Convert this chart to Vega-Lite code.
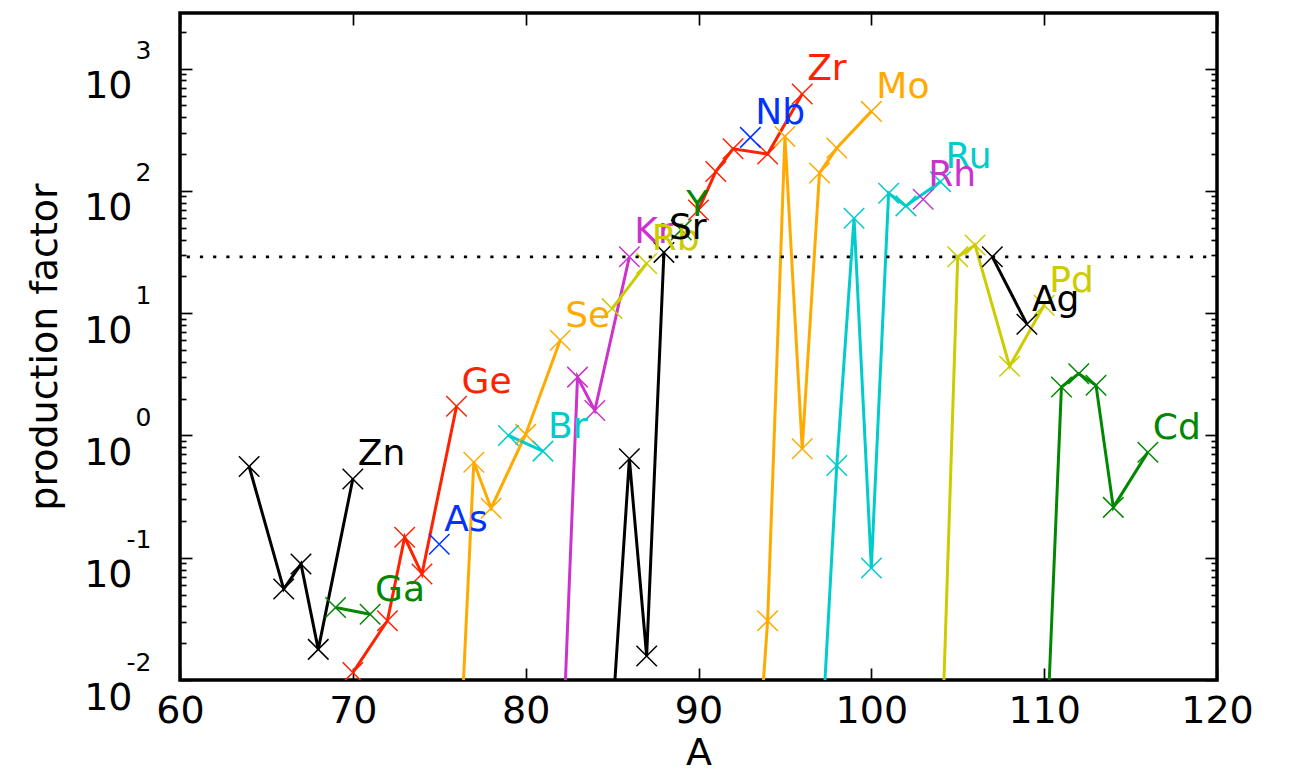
{
  "$schema": "https://vega.github.io/schema/vega-lite/v6.json",
  "width": 1037,
  "height": 667,
  "autosize": {"type": "none"},
  "padding": {"left": 180, "top": 13, "right": 74, "bottom": 90},
  "background": "white",
  "config": {
    "view": {"stroke": "black", "strokeWidth": 3.5},
    "axis": {"domain": false, "grid": false, "labelFont": "DejaVu Sans", "titleFont": "DejaVu Sans", "labelColor": "black", "titleColor": "black", "tickColor": "black", "labelFlush": false, "labelOverlap": false, "labelBound": false, "titleFontWeight": "normal", "tickWidth": 1.7}
  },
  "datasets": {
    "pf": [
      {"el": "Zn", "A": 64, "pf": 0.557}, {"el": "Zn", "A": 66, "pf": 0.0554}, {"el": "Zn", "A": 67, "pf": 0.0888}, {"el": "Zn", "A": 68, "pf": 0.0178}, {"el": "Zn", "A": 70, "pf": 0.441},
      {"el": "Ga", "A": 69, "pf": 0.0391}, {"el": "Ga", "A": 71, "pf": 0.0345},
      {"el": "Ge", "A": 70, "pf": 0.0115}, {"el": "Ge", "A": 72, "pf": 0.0305}, {"el": "Ge", "A": 73, "pf": 0.147}, {"el": "Ge", "A": 74, "pf": 0.0735}, {"el": "Ge", "A": 76, "pf": 1.73},
      {"el": "As", "A": 75, "pf": 0.129},
      {"el": "Se", "A": 74, "pf": 0.0001}, {"el": "Se", "A": 76, "pf": 0.00063}, {"el": "Se", "A": 77, "pf": 0.604}, {"el": "Se", "A": 78, "pf": 0.254}, {"el": "Se", "A": 80, "pf": 1.02}, {"el": "Se", "A": 82, "pf": 6.0},
      {"el": "Br", "A": 79, "pf": 1.0}, {"el": "Br", "A": 81, "pf": 0.744},
      {"el": "Kr", "A": 78, "pf": 0.00001}, {"el": "Kr", "A": 80, "pf": 0.00001}, {"el": "Kr", "A": 82, "pf": 0.00085}, {"el": "Kr", "A": 83, "pf": 3.0}, {"el": "Kr", "A": 84, "pf": 1.6}, {"el": "Kr", "A": 86, "pf": 28.9},
      {"el": "Rb", "A": 85, "pf": 10.9}, {"el": "Rb", "A": 87, "pf": 25.5},
      {"el": "Sr", "A": 84, "pf": 0.00003}, {"el": "Sr", "A": 86, "pf": 0.644}, {"el": "Sr", "A": 87, "pf": 0.0157}, {"el": "Sr", "A": 88, "pf": 31.4},
      {"el": "Y", "A": 89, "pf": 48},
      {"el": "Zr", "A": 90, "pf": 69.9}, {"el": "Zr", "A": 91, "pf": 144}, {"el": "Zr", "A": 92, "pf": 221}, {"el": "Zr", "A": 94, "pf": 200}, {"el": "Zr", "A": 96, "pf": 621},
      {"el": "Nb", "A": 93, "pf": 274},
      {"el": "Mo", "A": 92, "pf": 0.000003}, {"el": "Mo", "A": 94, "pf": 0.0305}, {"el": "Mo", "A": 95, "pf": 279}, {"el": "Mo", "A": 96, "pf": 0.778}, {"el": "Mo", "A": 97, "pf": 140}, {"el": "Mo", "A": 98, "pf": 224}, {"el": "Mo", "A": 100, "pf": 447},
      {"el": "Ru", "A": 96, "pf": 0.000004}, {"el": "Ru", "A": 98, "pf": 0.568}, {"el": "Ru", "A": 99, "pf": 59.7}, {"el": "Ru", "A": 100, "pf": 0.0823}, {"el": "Ru", "A": 101, "pf": 95.7}, {"el": "Ru", "A": 102, "pf": 75.4}, {"el": "Ru", "A": 104, "pf": 119},
      {"el": "Rh", "A": 103, "pf": 85.5},
      {"el": "Pd", "A": 102, "pf": 0.0001}, {"el": "Pd", "A": 104, "pf": 0.00133}, {"el": "Pd", "A": 105, "pf": 28.9}, {"el": "Pd", "A": 106, "pf": 36.1}, {"el": "Pd", "A": 108, "pf": 3.68}, {"el": "Pd", "A": 110, "pf": 11.6},
      {"el": "Ag", "A": 107, "pf": 28.9}, {"el": "Ag", "A": 109, "pf": 8.13},
      {"el": "Cd", "A": 106, "pf": 0.0001}, {"el": "Cd", "A": 108, "pf": 0.0001}, {"el": "Cd", "A": 110, "pf": 0.001}, {"el": "Cd", "A": 111, "pf": 2.49}, {"el": "Cd", "A": 112, "pf": 3.2}, {"el": "Cd", "A": 113, "pf": 2.57}, {"el": "Cd", "A": 114, "pf": 0.258}, {"el": "Cd", "A": 116, "pf": 0.73}
    ]
  },
  "data": {"name": "pf"},
  "layer": [
    {
      "mark": {"type": "line", "strokeWidth": 3, "clip": true},
      "encoding": {
        "x": {"field": "A", "type": "quantitative", "scale": {"domain": [60, 120], "nice": false, "zero": false},
          "axis": {"orient": "bottom", "values": [60, 70, 80, 90, 100, 110, 120], "ticks": false, "labelFontSize": 38, "labelPadding": 12.7, "labelBaseline": "top", "title": "A", "titleFontSize": 38, "titleBaseline": "alphabetic", "titleX": 518.5, "titleY": 84, "titleAnchor": "middle", "titleAlign": "center"}},
        "y": {"field": "pf", "type": "quantitative", "scale": {"type": "log", "domain": [0.01, 2850], "nice": false},
          "axis": {"orient": "left", "values": [0.01, 0.1, 1, 10, 100, 1000], "ticks": false, "labelExpr": "'10'", "labelFontSize": 38, "labelPadding": 48, "labelBaseline": "middle", "labelAlign": "right", "labelOffset": 18,
            "encode": {"labels": {"update": {"dx": {"signal": "datum.value < 1 ? -8.5 : 0"}}}},
            "title": "production factor", "titleFontSize": 38, "titleAngle": 270, "titleX": -124, "titleY": 333.5, "titleBaseline": "alphabetic", "titleAlign": "center"}},
        "color": {"field": "el", "type": "nominal", "legend": null,
          "scale": {"domain": ["Zn", "Ga", "Ge", "As", "Se", "Br", "Kr", "Rb", "Sr", "Y", "Zr", "Nb", "Mo", "Ru", "Rh", "Pd", "Ag", "Cd"],
            "range": ["#000000", "#008800", "#ff2200", "#0033ff", "#ffaa00", "#00cccc", "#cc33cc", "#cccc00", "#000000", "#008800", "#ff2200", "#0033ff", "#ffaa00", "#00cccc", "#cc33cc", "#cccc00", "#000000", "#008800"]}}
      }
    },
    {
      "mark": {"type": "point", "shape": "M-1,-1L1,1M-1,1L1,-1", "filled": false, "size": 420, "strokeWidth": 1.5, "opacity": 1, "clip": true},
      "encoding": {
        "x": {"field": "A", "type": "quantitative", "scale": {"domain": [60, 120], "nice": false, "zero": false},
          "axis": {"orient": "bottom", "values": [60, 70, 80, 90, 100, 110, 120], "labels": false, "tickSize": -12, "title": null}},
        "y": {"field": "pf", "type": "quantitative", "scale": {"type": "log", "domain": [0.01, 2850], "nice": false},
          "axis": {"orient": "left", "values": [0.01, 0.1, 1, 10, 100, 1000], "ticks": false, "labelExpr": "'' + round(log(datum.value) / LN10)", "labelFontSize": 25, "labelPadding": 29, "labelBaseline": "middle", "labelAlign": "right", "labelOffset": -18, "title": null}},
        "color": {"field": "el", "type": "nominal", "legend": null}
      }
    },
    {
      "transform": [{"aggregate": [{"op": "argmax", "field": "A", "as": "last"}], "groupby": ["el"]}],
      "mark": {"type": "text", "align": "left", "baseline": "alphabetic", "dx": 5, "dy": -13.5, "fontSize": 36, "font": "DejaVu Sans"},
      "encoding": {
        "x": {"field": "last.A", "type": "quantitative", "scale": {"domain": [60, 120], "nice": false, "zero": false},
          "axis": {"orient": "top", "values": [60, 70, 80, 90, 100, 110, 120], "labels": false, "tickSize": -12, "title": null}},
        "y": {"field": "last.pf", "type": "quantitative", "scale": {"type": "log", "domain": [0.01, 2850], "nice": false},
          "axis": {"orient": "left", "values": [0.01, 0.1, 1, 10, 100, 1000], "labels": false, "tickSize": -12, "title": null}},
        "text": {"field": "el", "type": "nominal"},
        "color": {"field": "el", "type": "nominal", "legend": null}
      }
    },
    {
      "data": {"values": [{}]},
      "mark": {"type": "rule", "color": "black", "strokeWidth": 2.8, "strokeDash": [3.2, 10], "strokeDashOffset": 2.5},
      "encoding": {
        "y": {"datum": 28.9, "type": "quantitative", "scale": {"type": "log", "domain": [0.01, 2850], "nice": false},
          "axis": {"orient": "left", "values": [0.02, 0.03, 0.04, 0.05, 0.06, 0.07, 0.08, 0.09, 0.2, 0.3, 0.4, 0.5, 0.6, 0.7, 0.8, 0.9, 2, 3, 4, 5, 6, 7, 8, 9, 20, 30, 40, 50, 60, 70, 80, 90, 200, 300, 400, 500, 600, 700, 800, 900, 2000], "labels": false, "tickSize": -6, "title": null}}
      }
    },
    {
      "data": {"values": [{}]},
      "mark": {"type": "rule", "strokeOpacity": 0},
      "encoding": {
        "y": {"datum": 1, "type": "quantitative", "scale": {"type": "log", "domain": [0.01, 2850], "nice": false},
          "axis": {"orient": "right", "values": [0.01, 0.1, 1, 10, 100, 1000], "labels": false, "tickSize": -12, "title": null}}
      }
    },
    {
      "data": {"values": [{}]},
      "mark": {"type": "rule", "strokeOpacity": 0},
      "encoding": {
        "y": {"datum": 1, "type": "quantitative", "scale": {"type": "log", "domain": [0.01, 2850], "nice": false},
          "axis": {"orient": "right", "values": [0.02, 0.03, 0.04, 0.05, 0.06, 0.07, 0.08, 0.09, 0.2, 0.3, 0.4, 0.5, 0.6, 0.7, 0.8, 0.9, 2, 3, 4, 5, 6, 7, 8, 9, 20, 30, 40, 50, 60, 70, 80, 90, 200, 300, 400, 500, 600, 700, 800, 900, 2000], "labels": false, "tickSize": -6, "title": null}}
      }
    }
  ],
  "resolve": {"axis": {"x": "independent", "y": "independent"}}
}
